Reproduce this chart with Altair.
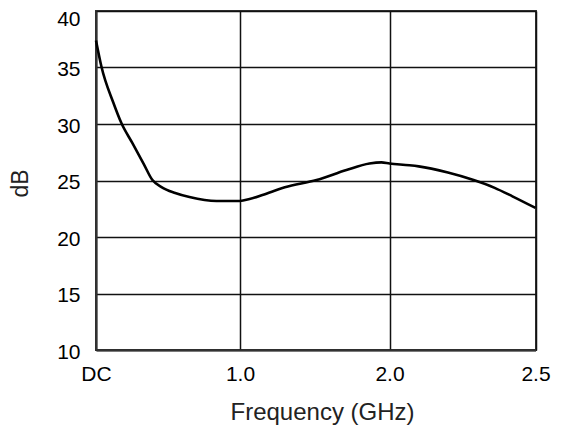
import altair as alt
import pandas as pd

freq_ghz = [0.0, 0.038, 0.12, 0.177, 0.253, 0.33, 0.392, 0.455, 0.55, 0.649, 0.837, 1.0, 1.064,
            1.15, 1.3, 1.512, 1.712, 1.866, 1.946, 2.0, 2.068, 2.1, 2.2, 2.288, 2.36, 2.421, 2.5]
gain_db = [37.4, 35.07, 31.9, 30.06, 28.3, 26.5, 25.04, 24.42, 23.9, 23.54, 23.19, 23.19, 23.36,
           23.72, 24.4, 25.04, 25.93, 26.5, 26.6, 26.5, 26.35, 26.25, 25.7, 25.04, 24.35, 23.6, 22.57]

x_ticks = [0, 1, 2, 2.5]
x_labels = ["DC", "1.0", "2.0", "2.5"]
y_ticks = [10, 15, 20, 25, 30, 35, 40]

df = pd.DataFrame({"f": freq_ghz, "db": gain_db})

label_expr = ("datum.value == 0 ? '%s' : datum.value == 1 ? '%s' : datum.value == 2 ? '%s' : '%s'"
              % tuple(x_labels))

FONT = "Liberation Sans"

chart = alt.Chart(df).mark_line(color="black", strokeWidth=2.6, interpolate="monotone").encode(
    x=alt.X("f:Q",
            scale=alt.Scale(domain=[0, 1, 2, 2.5], range=[0, 144, 293.5, 439.5], nice=False, zero=False),
            axis=alt.Axis(values=x_ticks, labelExpr=label_expr, title="Frequency (GHz)",
                          ticks=False, labelPadding=13, labelFontSize=21, titleFontSize=24,
                          titleFontWeight="normal", titleX=226, titleY=69, titleBaseline="alphabetic",
                          labelFlush=False)),
    y=alt.Y("db:Q",
            scale=alt.Scale(domain=[10, 40], nice=False, zero=False),
            axis=alt.Axis(values=y_ticks, title="dB", ticks=False, labelPadding=16,
                          labelOffset={"condition": {"test": "datum.value == 40", "value": 8}, "value": 2},
                          labelFontSize=21, titleFontSize=23, titleFontWeight="normal",
                          titleX=-64, titleY=172, labelFlush=False)),
).properties(
    width=440, height=339,
    autosize=alt.AutoSizeParams(type="none"),
    padding={"left": 88, "top": 3, "right": 17, "bottom": 79},
).configure_axis(
    labelFont=FONT, titleFont=FONT, labelColor="black", titleColor="#222",
    gridColor="#111", gridWidth=1.5, gridOpacity=1,
    domainColor="#333", domainWidth=2,
).configure_view(stroke="#333", strokeWidth=2)

chart.save("out.html", embed_options={"renderer": "svg", "actions": False})
